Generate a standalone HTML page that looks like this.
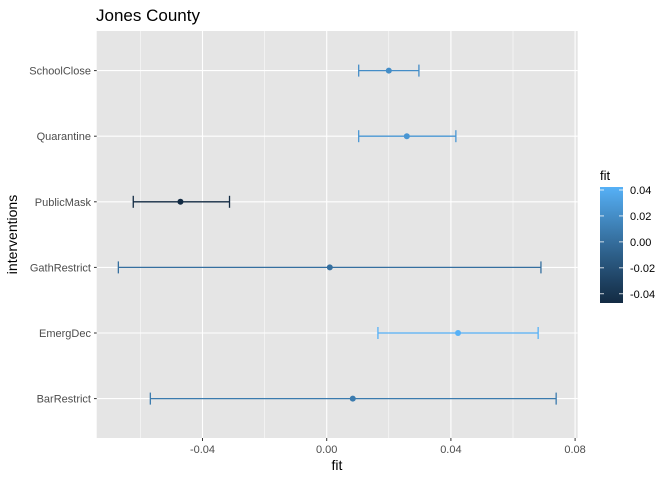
<!DOCTYPE html>
<html><head><meta charset="utf-8"><style>
body{margin:0;background:#fff;}
text{font-family:"Liberation Sans",sans-serif;}
</style></head><body>
<svg id="chart" width="672" height="480" xmlns="http://www.w3.org/2000/svg">
<defs><linearGradient id="grad" x1="0" y1="1" x2="0" y2="0"></linearGradient></defs>
<text x="96" y="21" font-size="17" fill="#000">Jones County</text>
<rect x="96.7" y="31" width="481" height="407" fill="#E5E5E5"/>
<g id="grid"></g><g id="marks"></g><g id="axes"></g>
<text x="337" y="470" font-size="14" text-anchor="middle">fit</text>
<text transform="translate(17,234.5) rotate(-90)" font-size="14" text-anchor="middle">interventions</text>
<g>
<text x="600" y="180" font-size="13">fit</text>
<rect x="600" y="187" width="23" height="116" fill="url(#grad)"/>
<g id="leg"></g>
</g>
</svg>
<script>
const categories=["SchoolClose","Quarantine","PublicMask","GathRestrict","EmergDec","BarRestrict"];
const fitValues=[0.0200,0.0258,-0.0471,0.0010,0.0423,0.0084];
const lowerValues=[0.0103,0.0103,-0.0623,-0.0671,0.0165,-0.0568];
const upperValues=[0.0297,0.0416,-0.0313,0.0690,0.0681,0.0739];
const xTicks=[-0.04,0,0.04,0.08];
const xTickLabels=["-0.04","0.00","0.04","0.08"];
const legendTicks=[0.04,0.02,0,-0.02,-0.04];
const legendLabels=["0.04","0.02","0.00","-0.02","-0.04"];

const NS="http://www.w3.org/2000/svg";
function el(p,t,a){const e=document.createElementNS(NS,t);for(const k in a)e.setAttribute(k,a[k]);p.appendChild(e);return e;}
const x=v=>326.7+v*3105;
const y=i=>398.6-(categories.length-1-i)*65.6;
const cmin=Math.min(...fitValues),cmax=Math.max(...fitValues);
// Lab interpolation
function toLin(c){c/=255;return c<=0.04045?c/12.92:Math.pow((c+0.055)/1.055,2.4);}
function fromLin(c){c=c<=0.0031308?12.92*c:1.055*Math.pow(c,1/2.4)-0.055;return Math.max(0,Math.min(255,Math.round(c*255)));}
const W=[0.95047,1,1.08883];
function f(t){return t>0.008856?Math.cbrt(t):7.787*t+16/116;}
function fi(t){return t>0.206893?t*t*t:(t-16/116)/7.787;}
function rgb2lab(r,g,b){r=toLin(r);g=toLin(g);b=toLin(b);
 const X=(0.4124*r+0.3576*g+0.1805*b)/W[0],Y=(0.2126*r+0.7152*g+0.0722*b)/W[1],Z=(0.0193*r+0.1192*g+0.9505*b)/W[2];
 return [116*f(Y)-16,500*(f(X)-f(Y)),200*(f(Y)-f(Z))];}
function lab2rgb(L,a,b){const fy=(L+16)/116,fx=fy+a/500,fz=fy-b/200;
 const X=fi(fx)*W[0],Y=fi(fy)*W[1],Z=fi(fz)*W[2];
 const r=3.2406*X-1.5372*Y-0.4986*Z,g=-0.9689*X+1.8758*Y+0.0415*Z,bb=0.0557*X-0.2040*Y+1.0570*Z;
 return "rgb("+fromLin(r)+","+fromLin(g)+","+fromLin(bb)+")";}
const LA=rgb2lab(0x13,0x2B,0x43),LB=rgb2lab(0x56,0xB1,0xF7);
function colT(t){return lab2rgb(LA[0]+(LB[0]-LA[0])*t,LA[1]+(LB[1]-LA[1])*t,LA[2]+(LB[2]-LA[2])*t);}
function col(v){return colT((v-cmin)/(cmax-cmin));}
const gradEl=document.getElementById('grad');
for(let k=0;k<=10;k++){el(gradEl,'stop',{offset:k/10,'stop-color':colT(k/10)});}
const grid=document.getElementById('grid'),marks=document.getElementById('marks'),axes=document.getElementById('axes'),leg=document.getElementById('leg');
for(let k=0;k<xTicks.length;k++){
 const l=el(grid,'line',{x1:x(xTicks[k]),x2:x(xTicks[k]),y1:31,y2:438,stroke:'#fff','stroke-width':1.1});
 
 
 if(k<xTicks.length-1){const m=(xTicks[k]+xTicks[k+1])/2;
 const l2=el(grid,'line',{x1:x(m),x2:x(m),y1:31,y2:438,stroke:'#fff','stroke-width':0.5});
 
 }
 const tk=el(axes,'line',{x1:x(xTicks[k]),x2:x(xTicks[k]),y1:438,y2:441,stroke:'#333'});
 
 
 const t=el(axes,'text',{x:x(xTicks[k]),y:453,'font-size':11,'text-anchor':'middle',fill:'#4d4d4d'});t.textContent=xTickLabels[k];
 
 
}
{const m=xTicks[0]-0.02;const l2=el(grid,'line',{x1:x(m),x2:x(m),y1:31,y2:438,stroke:'#fff','stroke-width':0.5});
 
 }
categories.forEach((c,i)=>{
 const g=el(grid,'line',{x1:96.7,x2:577.7,y1:y(i),y2:y(i),stroke:'#fff','stroke-width':1.1});
 
 
 const tk=el(axes,'line',{x1:94,x2:96.7,y1:y(i),y2:y(i),stroke:'#333'});
 
 
 const t=el(axes,'text',{x:91,y:y(i)+4,'font-size':11,'text-anchor':'end',fill:'#4d4d4d'});t.textContent=c;
 
 
 const cc=col(fitValues[i]);
 const gr=el(marks,'g',{stroke:cc,'stroke-width':1.3});
 
 
 el(gr,'line',{x1:x(lowerValues[i]),x2:x(upperValues[i]),y1:y(i),y2:y(i)});
 el(gr,'line',{x1:x(lowerValues[i]),x2:x(lowerValues[i]),y1:y(i)-6,y2:y(i)+6});
 el(gr,'line',{x1:x(upperValues[i]),x2:x(upperValues[i]),y1:y(i)-6,y2:y(i)+6});
 const p=el(marks,'circle',{cx:x(fitValues[i]),cy:y(i),r:3,fill:cc});
 
 
});
const ly=v=>303-(v-cmin)/(cmax-cmin)*116;
legendTicks.forEach((v,k)=>{
 const a=el(leg,'line',{x1:600,x2:604,y1:ly(v),y2:ly(v),stroke:'#fff','stroke-width':0.8});
 
 
 const b=el(leg,'line',{x1:619,x2:623,y1:ly(v),y2:ly(v),stroke:'#fff','stroke-width':0.8});
 
 
 const t=el(leg,'text',{x:630,y:ly(v)+4,'font-size':11,fill:'#000'});t.textContent=legendLabels[k];
 
 
});
</script>
</body></html>
